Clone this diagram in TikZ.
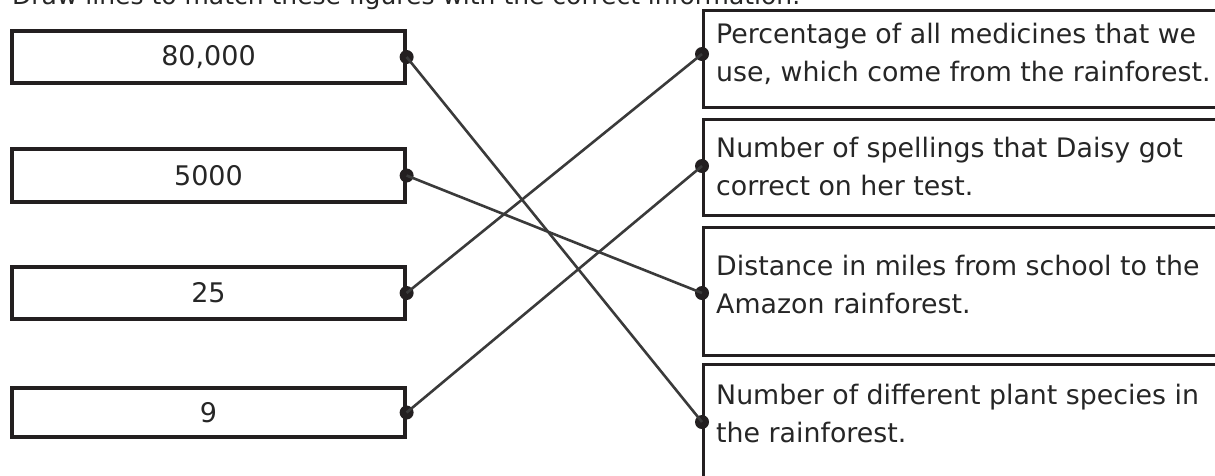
\documentclass[tikz,border=0pt]{standalone}
\usepackage{fontspec}
\setmainfont{DejaVu Sans}
\definecolor{inkc}{HTML}{231F20}
\definecolor{txtc}{HTML}{262626}
\definecolor{linkc}{HTML}{3A3A3A}
\begin{document}
\begin{tikzpicture}[x=1pt,y=-1pt,
  numbox/.style={draw=inkc, line width=3.2pt, minimum width=393pt, minimum height=52pt, inner sep=0pt,
    font=\fontsize{27}{30}\selectfont, text=txtc},
  infobox/.style={draw=inkc, line width=3.2pt, inner sep=0pt, anchor=north west, minimum width=540pt},
  infotext/.style={anchor=base west, inner sep=0pt, font=\fontsize{26.8}{30}\selectfont, text=txtc},
  headtext/.style={anchor=base west, inner sep=0pt, font=\fontsize{25}{30}\selectfont, text=txtc},
  dotn/.style={circle, fill=inkc, inner sep=0pt, minimum size=14pt},
  link/.style={draw=linkc, line width=2.6pt}]
\useasboundingbox (0,0) rectangle (1215,475);
\clip (0,0) rectangle (1215,475);
% heading (cut off at the top edge, as in the reference)
\node[headtext] (head) at (12,4) {Draw lines to match these figures with the correct information.};
% left boxes
\node[numbox] (n80) at (208.5,57) {80,000};
\node[numbox, minimum height=53pt] (n5000) at (208.5,175.5) {5000};
\node[numbox] (n25) at (208.5,293) {25};
\node[numbox, minimum height=49pt] (n9) at (208.5,412.5) {9};
% right boxes (running past the right edge)
\node[infobox, minimum height=97pt] (b1) at (702,9) {};
\node[infobox, minimum height=96pt] (b2) at (702,118) {};
\node[infobox, minimum height=128pt] (b3) at (702,226) {};
\node[infobox, minimum height=118pt] (b4) at (702,363) {};
\node[infotext] (t1a) at (716,43) {Percentage of all medicines that we};
\node[infotext] (t1b) at (716,81) {use, which come from the rainforest.};
\node[infotext] (t2a) at (716,157) {Number of spellings that Daisy got};
\node[infotext] (t2b) at (716,195) {correct on her test.};
\node[infotext] (t3a) at (716,275) {Distance in miles from school to the};
\node[infotext] (t3b) at (716,313) {Amazon rainforest.};
\node[infotext] (t4a) at (716,404) {Number of different plant species in};
\node[infotext] (t4b) at (716,442) {the rainforest.};
% dots
\node[dotn] (d80) at (n80.east) {};
\node[dotn] (d5000) at (n5000.east) {};
\node[dotn] (d25) at (n25.east) {};
\node[dotn] (d9) at (n9.east) {};
\node[dotn] (p1) at (b1.west |- 0,54) {};
\node[dotn] (p2) at (b2.west |- 0,166) {};
\node[dotn] (p3) at (b3.west |- 0,293) {};
\node[dotn] (p4) at (b4.west |- 0,422) {};
% connectors
\draw[link] (d80.center) -- (p4.center);
\draw[link] (d5000.center) -- (p3.center);
\draw[link] (d25.center) -- (p1.center);
\draw[link] (d9.center) -- (p2.center);
\end{tikzpicture}
\end{document}
